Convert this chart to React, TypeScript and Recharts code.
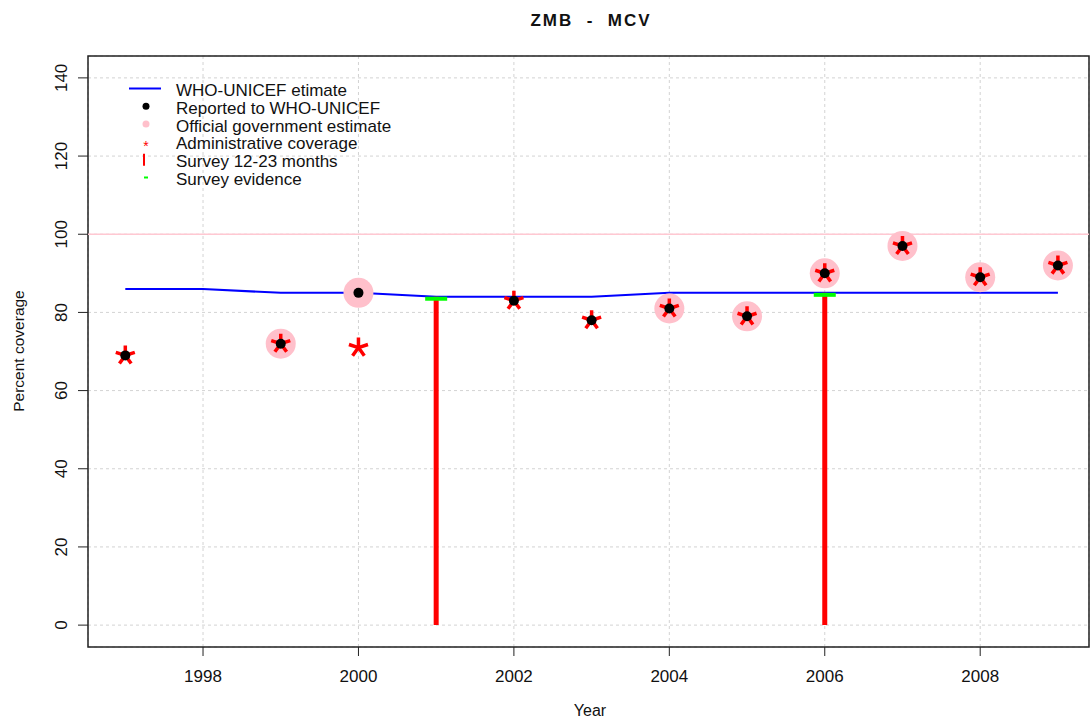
import React from "react";
import {
  ComposedChart,
  Line,
  Scatter,
  XAxis,
  YAxis,
  CartesianGrid,
  ReferenceLine,
  ReferenceArea,
} from "recharts";

// WHO-UNICEF estimate (blue line)
const years = [1997, 1998, 1999, 2000, 2001, 2002, 2003, 2004, 2005, 2006, 2007, 2008, 2009];
const whoUnicef = [86, 86, 85, 85, 84, 84, 84, 85, 85, 85, 85, 85, 85];

// Reported to WHO-UNICEF (black dots)
const reportedYears = [1997, 1999, 2000, 2002, 2003, 2004, 2005, 2006, 2007, 2008, 2009];
const reported = [69, 72, 85, 83, 78, 81, 79, 90, 97, 89, 92];

// Official government estimate (pink)
const officialYears = [1999, 2000, 2004, 2005, 2006, 2007, 2008, 2009];
const official = [72, 85, 81, 79, 90, 97, 89, 92];

// Administrative coverage (red stars)
const adminYears = [1997, 1999, 2000, 2002, 2003, 2004, 2005, 2006, 2007, 2008, 2009];
const admin = [69, 72, 71, 83, 78, 81, 79, 90, 97, 89, 92];

// Surveys
const surveyYears = [2001, 2006];
const survey1223 = [84, 85];
const surveyEvidence = [83.5, 84.5];

const xTicks = [1998, 2000, 2002, 2004, 2006, 2008];
const yTicks = [0, 20, 40, 60, 80, 100, 120, 140];

const toRows = (xs: number[], vs: number[]) => xs.map((year, i) => ({ year, value: vs[i] }));

const whoData = toRows(years, whoUnicef);
const reportedData = toRows(reportedYears, reported);
const officialData = toRows(officialYears, official);
const adminData = toRows(adminYears, admin);
const evidenceData = toRows(surveyYears, surveyEvidence);

const FONT = "'Liberation Sans', Arial, Helvetica, sans-serif";

const Dot = (p: any) => <circle cx={p.cx} cy={p.cy} r={5} fill="#000" />;
const PinkDot = (p: any) => <circle cx={p.cx} cy={p.cy} r={15} fill="#ffc0cb" />;
const GreenTick = (p: any) => <rect x={p.cx - 11} y={p.cy - 2} width={22} height={4} fill="#00ff00" />;

const Star = (p: any) => {
  const r = 10;
  let d = "";
  for (let i = 0; i < 5; i++) {
    const a = ((-90 + 72 * i) * Math.PI) / 180;
    d += `M${p.cx},${p.cy}L${p.cx + r * Math.cos(a)},${p.cy + r * Math.sin(a)}`;
  }
  return <path d={d} stroke="#ff0000" strokeWidth={3.5} fill="none" />;
};

const XTick = (p: any) => (
  <text x={p.x} y={p.y + 24} textAnchor="middle" fontSize={17} fontFamily={FONT} fill="#111">
    {p.payload.value}
  </text>
);

const YTick = (p: any) => {
  const x = p.x - 9;
  return (
    <text
      x={x}
      y={p.y}
      transform={`rotate(-90, ${x}, ${p.y})`}
      textAnchor="middle"
      fontSize={17}
      fontFamily={FONT}
      fill="#111"
    >
      {p.payload.value}
    </text>
  );
};

const legendRows = [
  "WHO-UNICEF etimate",
  "Reported to WHO-UNICEF",
  "Official government estimate",
  "Administrative coverage",
  "Survey 12-23 months",
  "Survey evidence",
];

function Overlay() {
  const base = 96;
  const step = 17.8;
  const sy = (i: number) => base + step * i - 7.5;
  return (
    <svg
      width={1090}
      height={719}
      style={{ position: "absolute", left: 0, top: 0, pointerEvents: "none" }}
      fontFamily={FONT}
    >
      <text x={591} y={26} textAnchor="middle" fontSize={17} fontWeight="bold" letterSpacing={2} style={{ whiteSpace: "pre" }} fill="#111">
        {"ZMB  -  MCV"}
      </text>
      <text x={590} y={716} textAnchor="middle" fontSize={16} fill="#111">
        Year
      </text>
      <text x={24} y={351} transform="rotate(-90, 24, 351)" textAnchor="middle" fontSize={15.5} fill="#111">
        Percent coverage
      </text>

      {/* legend */}
      <line x1={129} x2={161} y1={sy(0)} y2={sy(0)} stroke="#0000ff" strokeWidth={2} />
      <circle cx={146} cy={sy(1)} r={3.5} fill="#000" />
      <circle cx={146} cy={sy(2)} r={3.5} fill="#ffc0cb" />
      <text x={146} y={sy(3) + 9} textAnchor="middle" fontSize={14} fill="#ff0000">*</text>
      <line x1={144} x2={144} y1={sy(4) - 6} y2={sy(4) + 6} stroke="#ff0000" strokeWidth={2} />
      <line x1={144} x2={148} y1={sy(5)} y2={sy(5)} stroke="#00ff00" strokeWidth={2} />
      {legendRows.map((t, i) => (
        <text key={t} x={176} y={base + step * i} fontSize={17} fill="#111">
          {t}
        </text>
      ))}
    </svg>
  );
}

export default function App() {
  return (
    <div style={{ position: "absolute", left: 0, top: 0, width: 1090, height: 719, overflow: "hidden", background: "#fff" }}>
      <ComposedChart width={1090} height={719} margin={{ top: 56, right: 1, bottom: 32, left: 48 }}>
        <CartesianGrid stroke="#d3d3d3" strokeDasharray="3 3" />
        <XAxis
          dataKey="year"
          type="number"
          domain={[1996.52, 2009.4]}
          allowDataOverflow
          ticks={xTicks}
          interval={0}
          height={40}
          tickSize={9}
          axisLine={false}
          tickLine={{ stroke: "#222" }}
          tick={<XTick />}
        />
        <YAxis
          type="number"
          domain={[-5.6, 145.6]}
          allowDataOverflow
          ticks={yTicks}
          interval={0}
          width={40}
          tickSize={10}
          axisLine={false}
          tickLine={{ stroke: "#222" }}
          tick={<YTick />}
        />
        <ReferenceLine y={100} stroke="#ffc8d2" strokeWidth={1.5} />
        <ReferenceArea x1={1996.52} x2={2009.4} y1={-5.6} y2={145.6} fill="none" stroke="#222" strokeWidth={1.5} fillOpacity={0} />
        <Line data={whoData} dataKey="value" type="linear" stroke="#0000ff" strokeWidth={2} dot={false} isAnimationActive={false} />
        <Scatter data={officialData} dataKey="value" shape={<PinkDot />} isAnimationActive={false} />
        {surveyYears.map((yr, i) => (
          <ReferenceLine
            key={yr}
            segment={[
              { x: yr, y: 0 },
              { x: yr, y: survey1223[i] },
            ]}
            stroke="#ff0000"
            strokeWidth={5}
          />
        ))}
        <Scatter data={evidenceData} dataKey="value" shape={<GreenTick />} isAnimationActive={false} />
        <Scatter data={adminData} dataKey="value" shape={<Star />} isAnimationActive={false} />
        <Scatter data={reportedData} dataKey="value" shape={<Dot />} isAnimationActive={false} />
      </ComposedChart>
      <Overlay />
    </div>
  );
}
